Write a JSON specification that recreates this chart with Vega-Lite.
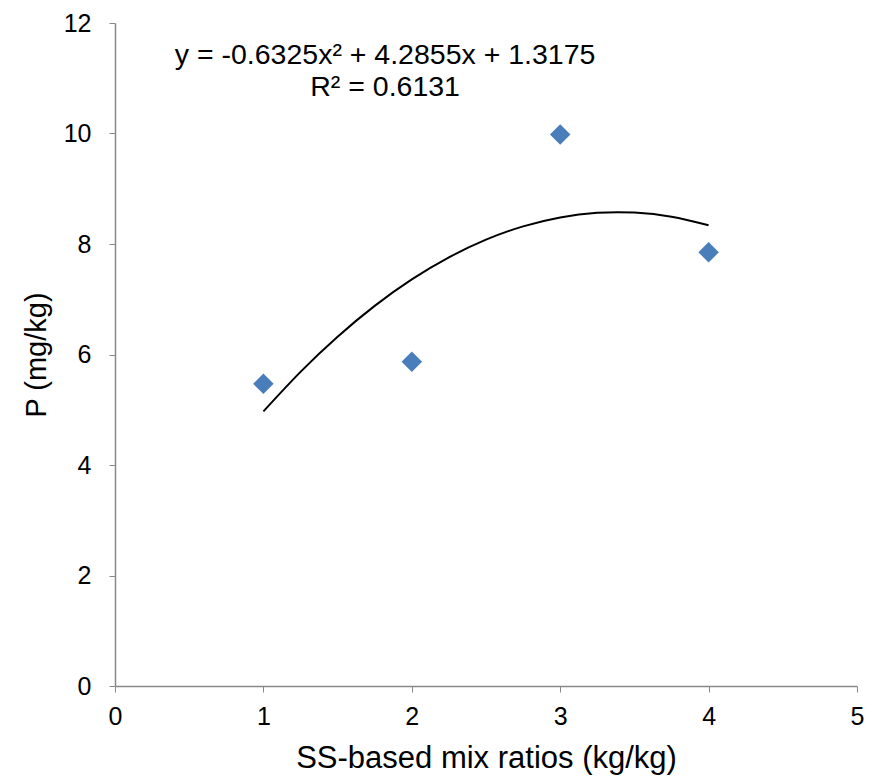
{
  "$schema": "https://vega.github.io/schema/vega-lite/v6.json",
  "autosize": "none",
  "width": 742,
  "height": 663,
  "padding": {"left": 115, "top": 23, "right": 27, "bottom": 96},
  "background": "white",
  "config": {
    "view": {"stroke": null},
    "font": "Liberation Sans"
  },
  "datasets": {
    "points": [
      {"ratio": 1, "P": 5.47},
      {"ratio": 2, "P": 5.87},
      {"ratio": 3, "P": 9.98},
      {"ratio": 4, "P": 7.85}
    ],
    "trend": [
      {"ratio": 1.0, "P": 4.9705},
      {"ratio": 1.25, "P": 5.6861},
      {"ratio": 1.5, "P": 6.3226},
      {"ratio": 1.75, "P": 6.8801},
      {"ratio": 2.0, "P": 7.3585},
      {"ratio": 2.25, "P": 7.7578},
      {"ratio": 2.5, "P": 8.0781},
      {"ratio": 2.75, "P": 8.3193},
      {"ratio": 3.0, "P": 8.4815},
      {"ratio": 3.25, "P": 8.5646},
      {"ratio": 3.5, "P": 8.5686},
      {"ratio": 3.75, "P": 8.4936},
      {"ratio": 4.0, "P": 8.3395}
    ],
    "labels": [
      {"ratio": 1.82, "P": 11.42, "text": "y = -0.6325x² + 4.2855x + 1.3175"},
      {"ratio": 1.82, "P": 10.84, "text": "R² = 0.6131"}
    ]
  },
  "layer": [
    {
      "data": {"name": "trend"},
      "mark": {"type": "line", "color": "black", "strokeWidth": 2, "interpolate": "natural"},
      "encoding": {
        "x": {
          "field": "ratio", "type": "quantitative",
          "scale": {"domain": [0, 5], "nice": false, "zero": false},
          "axis": {
            "title": "SS-based mix ratios (kg/kg)",
            "values": [0, 1, 2, 3, 4, 5],
            "format": "d",
            "grid": false,
            "labelFlush": false,
            "domainColor": "#888888",
            "domainWidth": 1.5,
            "tickColor": "#888888",
            "tickSize": 6,
            "labelFontSize": 25,
            "labelColor": "black",
            "labelPadding": 12,
            "labelFont": "Liberation Sans",
            "titleFont": "Liberation Sans",
            "titleFontSize": 31,
            "titleFontWeight": "normal",
            "titleColor": "black",
            "titlePadding": 14
          }
        },
        "y": {
          "field": "P", "type": "quantitative",
          "scale": {"domain": [0, 12], "nice": false},
          "axis": {
            "title": "P (mg/kg)",
            "values": [0, 2, 4, 6, 8, 10, 12],
            "format": "d",
            "grid": false,
            "labelFlush": false,
            "domainColor": "#888888",
            "domainWidth": 1.5,
            "tickColor": "#888888",
            "tickSize": 6,
            "labelFontSize": 25,
            "labelColor": "black",
            "labelPadding": 18,
            "labelFont": "Liberation Sans",
            "titleFont": "Liberation Sans",
            "titleFontSize": 29,
            "titleFontWeight": "normal",
            "titleColor": "black",
            "titlePadding": 12
          }
        }
      }
    },
    {
      "data": {"name": "points"},
      "mark": {"type": "point", "shape": "diamond", "filled": true, "color": "#4a7ebb", "size": 420, "opacity": 1},
      "encoding": {
        "x": {"field": "ratio", "type": "quantitative"},
        "y": {"field": "P", "type": "quantitative"}
      }
    },
    {
      "data": {"name": "labels"},
      "mark": {"type": "text", "fontSize": 28.5, "color": "black", "align": "center", "baseline": "middle", "font": "Liberation Sans"},
      "encoding": {
        "x": {"field": "ratio", "type": "quantitative"},
        "y": {"field": "P", "type": "quantitative"},
        "text": {"field": "text", "type": "nominal"}
      }
    }
  ]
}
